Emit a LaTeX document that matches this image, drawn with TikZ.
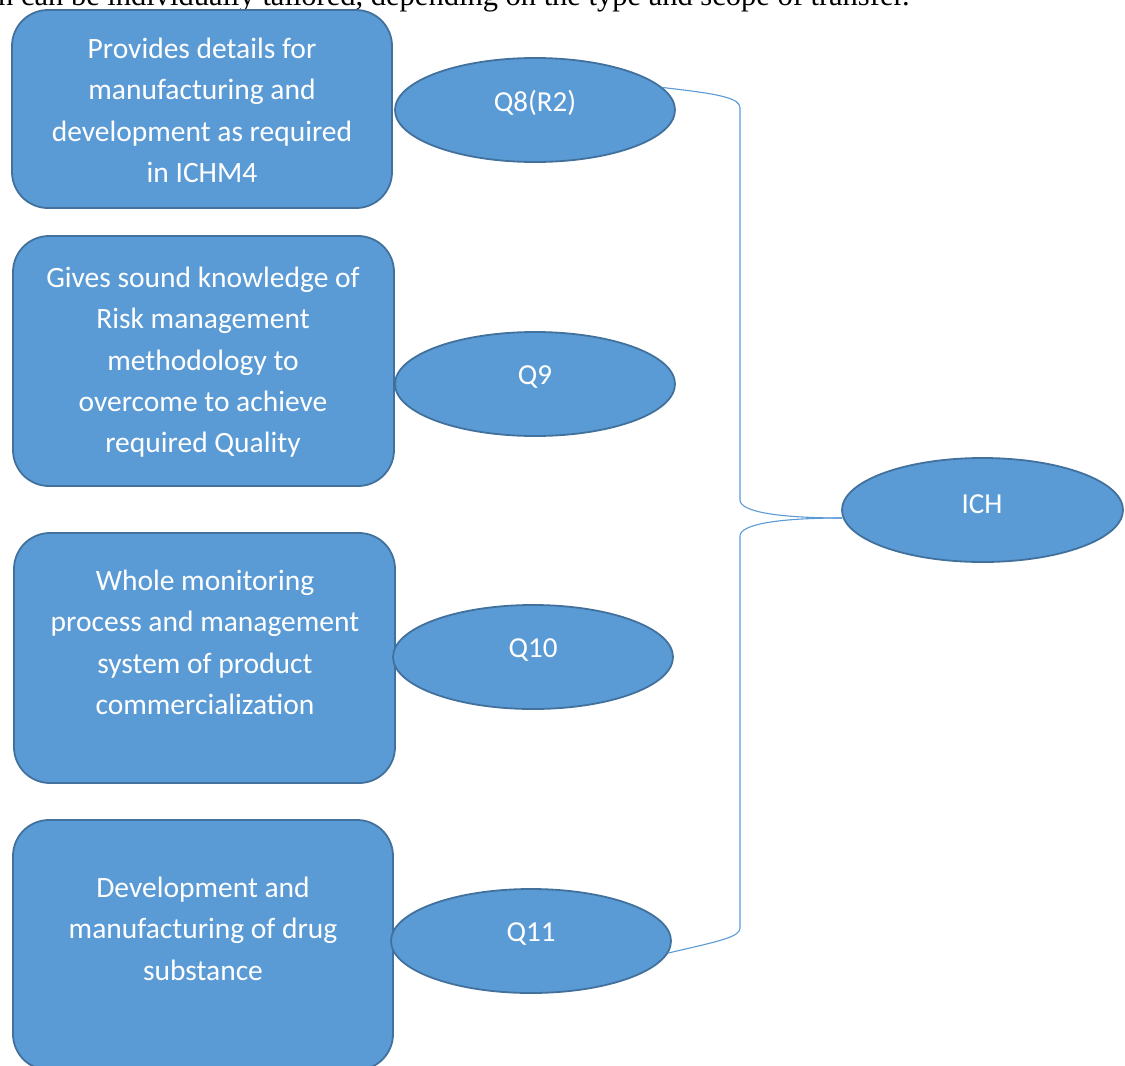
\documentclass[tikz,border=0pt]{standalone}
\usepackage{fontspec}
\setmainfont{Carlito}
\newfontfamily\serifhead{Liberation Serif}
\usetikzlibrary{shapes.geometric}
\definecolor{fillblue}{HTML}{5B9BD5}
\definecolor{edgeblue}{HTML}{41719C}
\definecolor{linkblue}{HTML}{5B9BD5}
\tikzset{
  infobox/.style={draw=edgeblue, line width=1.8pt, fill=fillblue, rounded corners=36pt, inner sep=0pt},
  qoval/.style={draw=edgeblue, line width=1.8pt, fill=fillblue, ellipse, inner sep=0pt, minimum width=280pt, minimum height=104pt},
  boxtext/.style={text=white, align=center, font=\fontsize{29.5}{41.3}\selectfont, inner sep=0pt, anchor=north},
  ovaltext/.style={text=white, font=\fontsize{29}{34}\selectfont, inner sep=0pt},
  link/.style={draw=linkblue, line width=1.1pt}
}
\begin{document}
\begin{tikzpicture}[x=1pt,y=-1pt]
\useasboundingbox (0,0) rectangle (1125,1066);
\clip (0,0) rectangle (1125,1066);
\fill[white] (0,0) rectangle (1125,1066);
% clipped running text at top
\node[anchor=base west, inner sep=0pt, font=\serifhead\fontsize{30.5}{34}\selectfont] (head) at (-2,5) {n can be individually tailored, depending on the type and scope of transfer.};
% boxes
\node[infobox, minimum width=380pt, minimum height=198pt] (b1) at (202,109) {};
\node[infobox, minimum width=381pt, minimum height=250pt] (b2) at (203.5,361) {};
\node[infobox, minimum width=381pt, minimum height=250pt] (b3) at (204.5,658) {};
\node[infobox, minimum width=380pt, minimum height=250pt] (b4) at (203,945) {};
% box texts
\node[boxtext] (t1) at (202,38) {Provides details for\\manufacturing and\\development as required\\in ICHM4};
\node[boxtext] (t2) at (203,267) {Gives sound knowledge of\\Risk management\\methodology to\\overcome to achieve\\required Quality};
\node[boxtext] (t3) at (205,570) {Whole monitoring\\process and management\\system of product\\commercialization};
\node[boxtext] (t4) at (203,877) {Development and\\manufacturing of drug\\substance};
% ovals
\node[qoval] (q8) at (535,110) {};
\node[ovaltext] at (535,103) {Q8(R2)};
\node[qoval] (q9) at (535,384) {};
\node[ovaltext] at (535,377) {Q9};
\node[qoval] (q10) at (533,657) {};
\node[ovaltext] at (533,650) {Q10};
\node[qoval] (q11) at (531,941) {};
\node[ovaltext] at (531,934) {Q11};
\node[qoval, minimum width=281pt] (ich) at (982.5,510) {};
\node[ovaltext] at (982,504) {ICH};
% bracket connector
\coordinate (join) at (842,518);
\draw[link] (q8.10) .. controls (720,94) and (740,98) .. (740,108) -- (740,500) .. controls (740,512) and (780,518) .. (join);
\draw[link] (q11.-5) .. controls (720,941) and (740,937) .. (740,928) -- (740,536) .. controls (740,524) and (780,518) .. (join);
\end{tikzpicture}
\end{document}
